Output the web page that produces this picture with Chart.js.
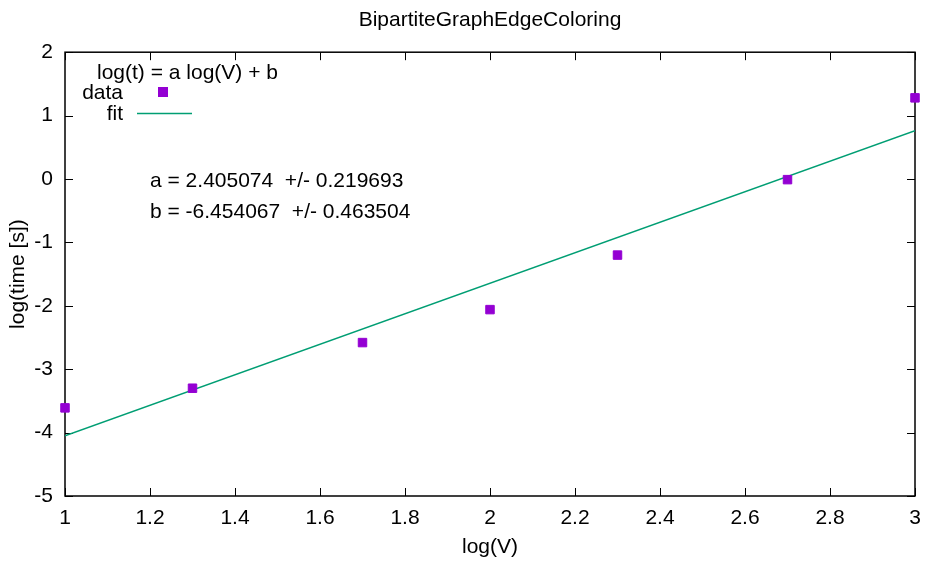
<!DOCTYPE html>
<html lang="en">
  <head>
    <meta charset="UTF-8" />
    <title>BipartiteGraphEdgeColoring</title>
    <style>
      body {
        margin: 0;
        background-color: #ffffff;
      }
      .chart-container {
        width: 925px;
        height: 564px;
        position: relative;
      }
    </style>
  </head>
  <body>
    <div class="chart-container">
      <canvas id="fitChart"></canvas>
    </div>
    <script src="https://cdn.jsdelivr.net/npm/chart.js"></script>
    <script>
      // measured log10(V) vs log10(time)
      const logV = [1, 1.3, 1.7, 2, 2.3, 2.7, 3];
      const logT = [-3.61, -3.3, -2.58, -2.06, -1.2, -0.01, 1.28];
      // fit line end points
      const fitX = [1, 3];
      const fitY = [-4.05, 0.76];
      const fitText = [
        "a = 2.405074  +/- 0.219693",
        "b = -6.454067  +/- 0.463504",
      ];

      const FONT = "'Liberation Sans', Arial, sans-serif";
      const SIZE = 21;
      const purple = "#9400d3";
      const green = "#009e73";

      // gnuplot-like frame, inward ticks, key and fit text
      const framePlugin = {
        id: "frame",
        beforeDatasetsDraw(chart) {
          const { ctx, chartArea: a, scales } = chart;
          ctx.save();
          ctx.strokeStyle = "#000";
          ctx.lineWidth = 1.5;
          ctx.strokeRect(a.left, a.top, a.right - a.left, a.bottom - a.top);
          ctx.lineWidth = 1;
          const len = 8;
          ctx.beginPath();
          scales.x.ticks.forEach((t) => {
            const px = Math.round(scales.x.getPixelForValue(t.value)) + 0.5;
            ctx.moveTo(px, a.bottom);
            ctx.lineTo(px, a.bottom - len);
            ctx.moveTo(px, a.top);
            ctx.lineTo(px, a.top + len);
          });
          scales.y.ticks.forEach((t) => {
            const py = Math.round(scales.y.getPixelForValue(t.value)) + 0.5;
            ctx.moveTo(a.left, py);
            ctx.lineTo(a.left + len, py);
            ctx.moveTo(a.right, py);
            ctx.lineTo(a.right - len, py);
          });
          ctx.stroke();
          ctx.restore();
        },
        afterDraw(chart) {
          const { ctx } = chart;
          ctx.save();
          ctx.font = SIZE + "px " + FONT;
          ctx.fillStyle = "#000";
          ctx.textBaseline = "middle";
          ctx.textAlign = "left";
          ctx.fillText("log(t) = a log(V) + b", 97, 73);
          ctx.textAlign = "right";
          ctx.fillText("data", 123, 93);
          ctx.fillText("fit", 123, 114);
          ctx.fillStyle = purple;
          ctx.fillRect(158, 87, 10, 10);
          ctx.strokeStyle = green;
          ctx.lineWidth = 1.5;
          ctx.beginPath();
          ctx.moveTo(137, 113.5);
          ctx.lineTo(192, 113.5);
          ctx.stroke();
          ctx.fillStyle = "#000";
          ctx.textAlign = "left";
          ctx.fillText(fitText[0], 150, 181);
          ctx.fillText(fitText[1], 150, 212);
          ctx.restore();
        },
      };

      new Chart(document.getElementById("fitChart"), {
        type: "scatter",
        data: {
          datasets: [
            {
              label: "data",
              data: logV.map((x, i) => ({ x: x, y: logT[i] })),
              pointStyle: "rect",
              pointRadius: 6,
              borderWidth: 1,
              backgroundColor: purple,
              borderColor: purple,
              showLine: false,
              clip: false,
            },
            {
              label: "fit",
              data: fitX.map((x, i) => ({ x: x, y: fitY[i] })),
              showLine: true,
              pointRadius: 0,
              borderColor: green,
              borderWidth: 1.5,
              fill: false,
            },
          ],
        },
        options: {
          responsive: true,
          maintainAspectRatio: false,
          animation: false,
          layout: { padding: { left: 0, right: 10, top: 0, bottom: 0 } },
          plugins: {
            legend: { display: false },
            tooltip: { enabled: false },
            title: {
              display: true,
              fullSize: false,
              text: "BipartiteGraphEdgeColoring",
              color: "#000",
              font: { family: FONT, size: SIZE, weight: "normal" },
              padding: { top: 8, bottom: 19 },
            },
          },
          scales: {
            x: {
              type: "linear",
              min: 1,
              max: 3,
              grid: { display: false, drawTicks: false },
              border: { display: false },
              ticks: {
                stepSize: 0.2,
                padding: 10,
                color: "#000",
                font: { family: FONT, size: SIZE },
                callback: (v) => String(Number(v.toFixed(1))),
              },
              title: {
                display: true,
                text: "log(V)",
                color: "#000",
                font: { family: FONT, size: SIZE },
                padding: { top: 0, bottom: 4 },
              },
              afterFit: (scale) => {
                scale.height = 68;
                scale.paddingLeft = 0;
                scale.paddingRight = 0;
              },
            },
            y: {
              type: "linear",
              min: -5,
              max: 2,
              grid: { display: false, drawTicks: false },
              border: { display: false },
              ticks: {
                stepSize: 1,
                padding: 12,
                color: "#000",
                font: { family: FONT, size: SIZE },
              },
              title: {
                display: true,
                text: "log(time [s])",
                color: "#000",
                font: { family: FONT, size: SIZE },
                padding: { top: 6, bottom: 0 },
              },
              afterFit: (scale) => {
                scale.width = 65;
              },
            },
          },
        },
        plugins: [framePlugin],
      });
    </script>
  </body>
</html>
